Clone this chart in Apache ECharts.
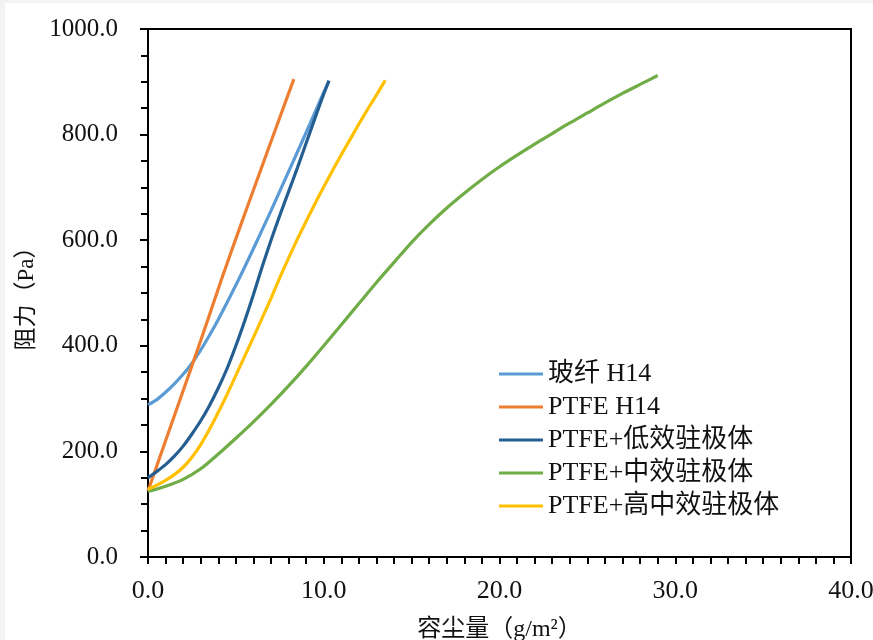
<!DOCTYPE html>
<html>
<head>
<meta charset="utf-8">
<script src="https://cdn.jsdelivr.net/npm/echarts@6/dist/echarts.min.js"></script>
<style>
  html, body { margin: 0; padding: 0; background: #f3f3f3; }
  #chart { position: absolute; left: 5px; top: 3px; width: 868px; height: 637px; background: #ffffff; }
</style>
</head>
<body>
<div id="chart"></div>
<script>
// Dust holding capacity (g/m²) vs. resistance (Pa) for five filter media

const seriesNames = ['玻纤 H14', 'PTFE H14', 'PTFE+低效驻极体', 'PTFE+中效驻极体', 'PTFE+高中效驻极体'];
const seriesColors = ['#5B9BD5', '#ED7D31', '#255E91', '#70AD47', '#FFC000'];

// 玻纤 H14
const glassX = [0, 0.5, 1, 1.5, 2, 2.5, 3, 3.5, 4, 4.5, 5, 5.7, 6.5, 7, 7.5, 8, 8.5, 9, 9.5, 10, 10.3];
const glassY = [288, 298, 312, 328, 346, 367, 392, 420, 450, 482, 515, 563, 620, 656, 693, 730, 767, 804, 842, 880, 902];

// PTFE H14
const ptfeX = [0, 1, 2, 3, 4, 4.5, 5, 6, 7, 8, 8.3];
const ptfeY = [125, 220, 315, 410, 508, 556, 603, 695, 787, 878, 905];

// PTFE+低效驻极体
const lowX = [0, 0.5, 1, 1.5, 2, 2.5, 3, 3.5, 4, 4.5, 5, 5.5, 6, 6.5, 7, 7.5, 8, 8.5, 9, 9.5, 10, 10.3];
const lowY = [150, 162, 175, 191, 210, 233, 258, 287, 320, 357, 400, 447, 497, 550, 600, 647, 692, 737, 784, 831, 877, 902];

// PTFE+中效驻极体
const midX = [0, 1, 2, 3, 4, 5, 6, 7, 8, 9, 10, 11, 12, 13, 14, 15, 16, 17, 18, 19, 20, 21, 22, 23, 24, 25, 26, 27, 28, 29];
const midY = [124, 134, 147, 167, 195, 225, 256, 289, 324, 361, 400, 440, 480, 520, 558, 596, 630, 661, 689, 715, 739, 761, 782, 802, 822, 841, 860, 878, 895, 912];

// PTFE+高中效驻极体
const highX = [0, 0.5, 1, 1.5, 2, 2.5, 3, 3.5, 4, 4.5, 5, 5.5, 6, 6.5, 7, 7.5, 8, 8.5, 9, 9.5, 10, 10.5, 11, 11.5, 12, 12.5, 13, 13.5];
const highY = [128, 136, 145, 156, 170, 189, 213, 242, 274, 308, 344, 380, 416, 453, 490, 529, 566, 602, 636, 669, 701, 732, 762, 791, 820, 848, 875, 903];

const xTicks = { min: 0, max: 40, interval: 10 };
const yTicks = { min: 0, max: 1000, interval: 200 };

const curves = [
  [glassX, glassY],
  [ptfeX, ptfeY],
  [lowX, lowY],
  [midX, midY],
  [highX, highY]
];

const zip = (xs, ys) => xs.map((x, i) => [x, ys[i]]);

const latin = '"Liberation Serif", "Times New Roman", "Noto Sans CJK SC", serif';

const chart = echarts.init(document.getElementById('chart'), null, { renderer: 'canvas' });

chart.setOption({
  animation: false,
  backgroundColor: '#ffffff',
  grid: {
    left: 143, top: 26, width: 703, height: 528,
    containLabel: false,
    outerBoundsMode: 'none',
    show: true, borderColor: '#000', borderWidth: 2, backgroundColor: 'transparent'
  },
  legend: {
    orient: 'vertical',
    left: 489, top: 350,
    itemWidth: 44, itemHeight: 3, itemGap: 1,
    icon: 'rect',
    textStyle: { fontFamily: latin, fontSize: 26, color: '#111', lineHeight: 32 },
    data: seriesNames
  },
  xAxis: {
    type: 'value',
    min: xTicks.min, max: xTicks.max, interval: xTicks.interval,
    name: '容尘量（g/m²）',
    nameLocation: 'middle',
    nameGap: 61,
    nameTextStyle: { fontFamily: latin, fontSize: 24, color: '#111' },
    axisLine: { show: true, lineStyle: { color: '#000', width: 2 } },
    axisTick: { show: true, inside: false, length: 7, lineStyle: { color: '#000', width: 2 } },
    minorTick: { show: true, splitNumber: 10, length: 7, lineStyle: { color: '#000', width: 2 } },
    axisLabel: { margin: 21, fontFamily: latin, fontSize: 26, color: '#111', formatter: v => v.toFixed(1) },
    splitLine: { show: false }
  },
  yAxis: {
    type: 'value',
    min: yTicks.min, max: yTicks.max, interval: yTicks.interval,
    name: '阻力（Pa）',
    nameLocation: 'middle',
    nameGap: 106,
    nameRotate: 90,
    nameTextStyle: { fontFamily: latin, fontSize: 23, color: '#111' },
    axisLine: { show: true, lineStyle: { color: '#000', width: 2 } },
    axisTick: { show: true, inside: false, length: 8, lineStyle: { color: '#000', width: 2 } },
    minorTick: { show: true, splitNumber: 4, length: 7, lineStyle: { color: '#000', width: 2 } },
    axisLabel: { margin: 30, fontFamily: latin, fontSize: 25, color: '#111', formatter: v => v.toFixed(1) },
    splitLine: { show: false }
  },
  series: curves.map((c, i) => ({
    name: seriesNames[i],
    type: 'line',
    data: zip(c[0], c[1]),
    smooth: 0.3,
    showSymbol: false,
    symbol: 'none',
    itemStyle: { color: seriesColors[i] },
    lineStyle: { color: seriesColors[i], width: 3.2 }
  }))
});
</script>
</body>
</html>
